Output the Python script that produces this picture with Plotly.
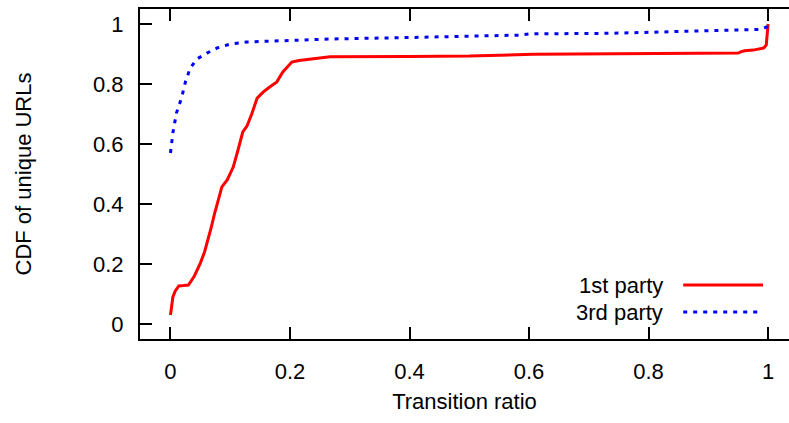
import plotly.graph_objects as go

# 1st party CDF (transition ratio, CDF)
first_x = [0.0, 0.002, 0.004, 0.008, 0.014, 0.022, 0.030, 0.040, 0.050, 0.057, 0.063, 0.068, 0.074, 0.080,
           0.086, 0.095, 0.105, 0.113, 0.121, 0.128, 0.136, 0.145, 0.155, 0.166, 0.178, 0.188, 0.203,
           0.215, 0.234, 0.267, 0.40, 0.50, 0.607, 0.70, 0.80, 0.90, 0.95, 0.955, 0.961, 0.975, 0.987,
           0.993, 0.997, 0.998, 0.999, 1.0]
first_y = [0.03, 0.06, 0.09, 0.11, 0.127, 0.128, 0.13, 0.16, 0.203, 0.24, 0.28, 0.32, 0.37, 0.41,
           0.457, 0.48, 0.523, 0.58, 0.64, 0.66, 0.70, 0.753, 0.773, 0.79, 0.807, 0.84, 0.873,
           0.878, 0.883, 0.891, 0.892, 0.893, 0.899, 0.900, 0.901, 0.902, 0.903, 0.908, 0.911, 0.913, 0.916,
           0.92, 0.93, 0.96, 0.99, 1.0]

# 3rd party CDF
third_x = [0.0, 0.002, 0.004, 0.010, 0.019, 0.025, 0.033, 0.044, 0.061, 0.078, 0.100, 0.127, 0.167,
           0.211, 0.267, 0.40, 0.468, 0.585, 0.60, 0.735, 0.89, 0.987, 0.998, 1.0]
third_y = [0.57, 0.603, 0.637, 0.703, 0.757, 0.807, 0.853, 0.883, 0.903, 0.92, 0.933, 0.94, 0.943,
           0.947, 0.95, 0.955, 0.958, 0.963, 0.967, 0.969, 0.977, 0.982, 0.99, 1.0]

x_ticks = [0, 0.2, 0.4, 0.6, 0.8, 1]
y_ticks = [0, 0.2, 0.4, 0.6, 0.8, 1]
tick_text = ["0", "0.2", "0.4", "0.6", "0.8", "1"]
series_names = ["1st party", "3rd party"]

RED = "#ff0000"
BLUE = "#0000ff"
FONT = "Liberation Sans"
FS = 22

fig = go.Figure()
fig.add_trace(go.Scatter(x=first_x, y=first_y, mode="lines", name=series_names[0],
                         line=dict(color=RED, width=3), showlegend=False))
fig.add_trace(go.Scatter(x=third_x, y=third_y, mode="lines", name=series_names[1],
                         line=dict(color=BLUE, width=3, dash="4px,6px"), showlegend=False))

axis_common = dict(
    showgrid=False, zeroline=False, showline=True, linecolor="black", linewidth=2,
    ticks="inside", ticklen=12, tickwidth=1.5, tickcolor="black", automargin=False,
    tickfont=dict(family=FONT, size=FS, color="black"),
)

fig.update_layout(
    width=789, height=423,
    margin=dict(l=140, r=0, t=9, b=84),
    paper_bgcolor="white", plot_bgcolor="white",
    font=dict(family=FONT, size=FS, color="black"),
    xaxis=dict(range=[-0.051, 1.035], tickvals=x_ticks, ticktext=tick_text,
               mirror="ticks", ticklabelstandoff=12,
               title=dict(text="Transition ratio", font=dict(family=FONT, size=FS), standoff=10),
               **axis_common),
    yaxis=dict(range=[-0.05, 1.05], tickvals=y_ticks, ticktext=tick_text,
               mirror=False, ticklabelstandoff=10,
               title=dict(text="CDF of unique URLs", font=dict(family=FONT, size=FS), standoff=55),
               **axis_common),
    yaxis2=dict(overlaying="y", side="right", matches="y", range=[-0.05, 1.05], tickvals=y_ticks,
                showticklabels=False, ticks="inside", ticklen=4, tickwidth=1.5, tickcolor="black",
                showline=False, showgrid=False, zeroline=False, automargin=False),
    showlegend=False,
)

# Legend drawn gnuplot-style: text on the left, sample on the right
legend_rows = [(0.1636, RED, "solid"), (0.0818, BLUE, "4px,6px")]
for name, (yp, col, dash) in zip(series_names, legend_rows):
    fig.add_annotation(xref="paper", yref="paper", x=0.809, y=yp, text=name, showarrow=False,
                       xanchor="right", yanchor="middle", font=dict(family=FONT, size=FS, color="black"))
    fig.add_shape(type="line", xref="paper", yref="paper", x0=0.837, x1=0.960, y0=yp, y1=yp,
                  line=dict(color=col, width=3, dash=dash))

fig.write_html("out.html", config={"displayModeBar": False},
               post_script="document.body.style.margin='0px';document.body.style.overflow='hidden';")
